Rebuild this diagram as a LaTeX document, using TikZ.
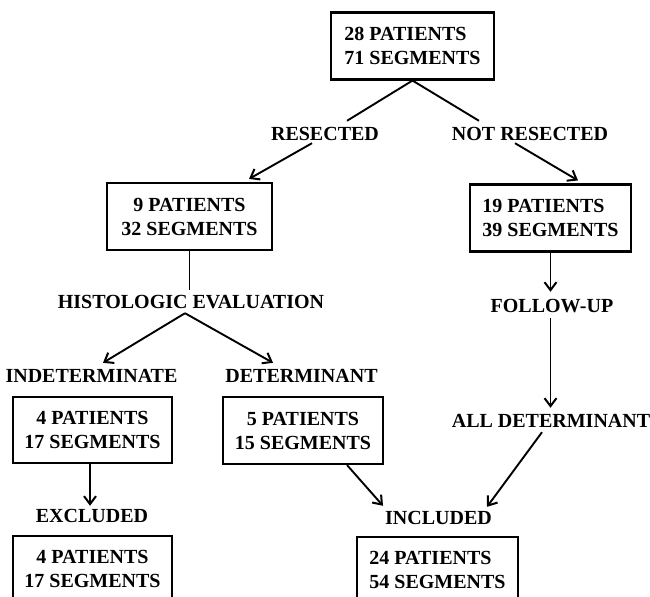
\documentclass[tikz,border=0pt]{standalone}
\usepackage{fontspec}
\setmainfont{Liberation Serif}
\usetikzlibrary{arrows.meta,calc}
\begin{document}
\begin{tikzpicture}[x=1bp,y=-1bp,
  txt/.style={font=\bfseries\fontsize{20bp}{24bp}\selectfont},
  box/.style={txt,draw,line width=2.1bp,inner sep=0pt,minimum height=67bp},
  lbl/.style={txt,inner sep=0pt,text height=13bp,text depth=0pt},
  conn/.style={line width=1.9bp},
  arr/.style={conn,-{Straight Barb[length=8bp,width=12bp,line width=2bp]}}]
\useasboundingbox (0,0) rectangle (650,597);
\fill[white] (0,0) rectangle (650,597);
% boxes
\node[box,align=left,minimum width=163bp] (top) at (412.5,46) {28 PATIENTS\\71 SEGMENTS};
\node[box,align=center,minimum width=165bp] (b9) at (189.5,216.5) {9 PATIENTS\\32 SEGMENTS};
\node[box,align=left,minimum width=161bp] (b19) at (550.5,218) {19 PATIENTS\\39 SEGMENTS};
\node[box,align=center,minimum width=159bp,minimum height=66bp] (b4) at (92.5,430) {4 PATIENTS\\17 SEGMENTS};
\node[box,align=center,minimum width=160bp] (b5) at (303,430.5) {5 PATIENTS\\15 SEGMENTS};
\node[box,align=center,minimum width=159bp,minimum height=66bp] (bex) at (92.5,569) {4 PATIENTS\\17 SEGMENTS};
\node[box,align=left,minimum width=161bp,minimum height=66bp] (b24) at (437.5,570) {24 PATIENTS\\54 SEGMENTS};
% labels
\node[lbl] (res) at (325,134) {RESECTED};
\node[lbl] (nres) at (530,134.5) {NOT RESECTED};
\node[lbl] (hist) at (191,301.5) {HISTOLOGIC EVALUATION};
\node[lbl] (indet) at (91.5,375.5) {INDETERMINATE};
\node[lbl] (det) at (301.5,375.5) {DETERMINANT};
\node[lbl] (fu) at (552,305.5) {FOLLOW-UP};
\node[lbl] (alldet) at (551,420.5) {ALL DETERMINANT};
\node[lbl] (excl) at (92,515.5) {EXCLUDED};
\node[lbl] (inc) at (438.5,517.5) {INCLUDED};
% connectors
\draw[conn] (top.south) -- ($(res.north)+(22,-6.5)$);
\draw[conn] (top.south) -- ($(nres.north)+(-51,-7)$);
\draw[arr] ($(res.south)+(-13,2.5)$) -- ($(b9.north)+(59.5,-3)$);
\draw[arr] ($(nres.south)+(-15,2)$) -- ($(b19.north)+(27.5,-3)$);
\draw[conn] (b9.south) -- ($(b9.south |- hist.north)+(0,-5)$);
\coordinate (hs) at ($(hist.south)+(-6,5)$);
\draw[arr] (hs) -- ($(indet.north)+(11.5,-6)$);
\draw[arr] (hs) -- ($(det.north)+(-28.5,-6)$);
\draw[arr] (b19.south) -- ($(b19.south |- fu.north)+(0,-7)$);
\draw[arr] ($(b19.south |- fu.south)+(0,6)$) -- ($(b19.south |- alldet.north)+(0,-6)$);
\draw[arr] ($(alldet.south)+(-9,5)$) -- ($(inc.north)+(48.5,-4)$);
\draw[arr] ($(b5.south)+(44,0)$) -- ($(inc.north)+(-55.5,-5)$);
\draw[arr] ($(b4.south)+(-2.5,0)$) -- ($(b4.south |- excl.north)+(-2.5,-3)$);
\end{tikzpicture}
\end{document}
